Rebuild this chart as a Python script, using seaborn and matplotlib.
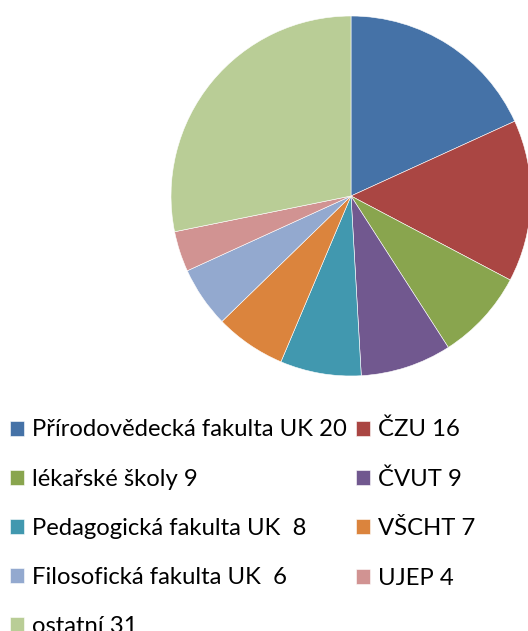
import matplotlib
matplotlib.use("Agg")
import matplotlib.pyplot as plt
import seaborn as sns

# Data
labels = ["Přírodovědecká fakulta UK 20", "ČZU 16", "lékařské školy 9", "ČVUT 9",
          "Pedagogická fakulta UK  8", "VŠCHT 7", "Filosofická fakulta UK  6",
          "UJEP 4", "ostatní 31"]
values = [20, 16, 9, 9, 8, 7, 6, 4, 31]
colors = ["#4572A7", "#AA4643", "#89A54E", "#71588F", "#4198AF",
          "#DB843D", "#93A9CF", "#D19392", "#B9CD96"]

sns.set_theme(style="white")
plt.rcParams['font.family'] = ['Lato', 'DejaVu Sans']

W, H = 528, 631
fig = plt.figure(figsize=(W / 100, H / 100), dpi=100)

# Pie centre (351,196) px, radius 180 px
cx, cy, r = 351, 196, 180
ax = fig.add_axes([(cx - r) / W, 1 - (cy + r) / H, 2 * r / W, 2 * r / H])
wedges, _ = ax.pie(values, colors=sns.color_palette(colors), startangle=90,
                   counterclock=False, radius=1,
                   wedgeprops={'edgecolor': 'white', 'linewidth': 0.4})
ax.set_xlim(-1, 1)
ax.set_ylim(-1, 1)
ax.set_aspect('equal')
ax.axis('off')

# Legend, row-wise order like Excel (column-major fill in matplotlib)
order = [0, 2, 4, 6, 8, 1, 3, 5, 7]
fs = 17.2
leg = fig.legend([wedges[i] for i in order], [labels[i] for i in order],
                 ncol=2, loc="upper left",
                 bbox_to_anchor=(10 / W, 1 - 419 / H),
                 frameon=False, fontsize=fs, borderpad=0, borderaxespad=0,
                 handlelength=0.59, handleheight=0.59, handletextpad=0.34,
                 labelspacing=1.18, columnspacing=0.38)
for t in leg.get_texts():
    t.set_color("#000000")

fig.savefig("out.png", dpi=100)
